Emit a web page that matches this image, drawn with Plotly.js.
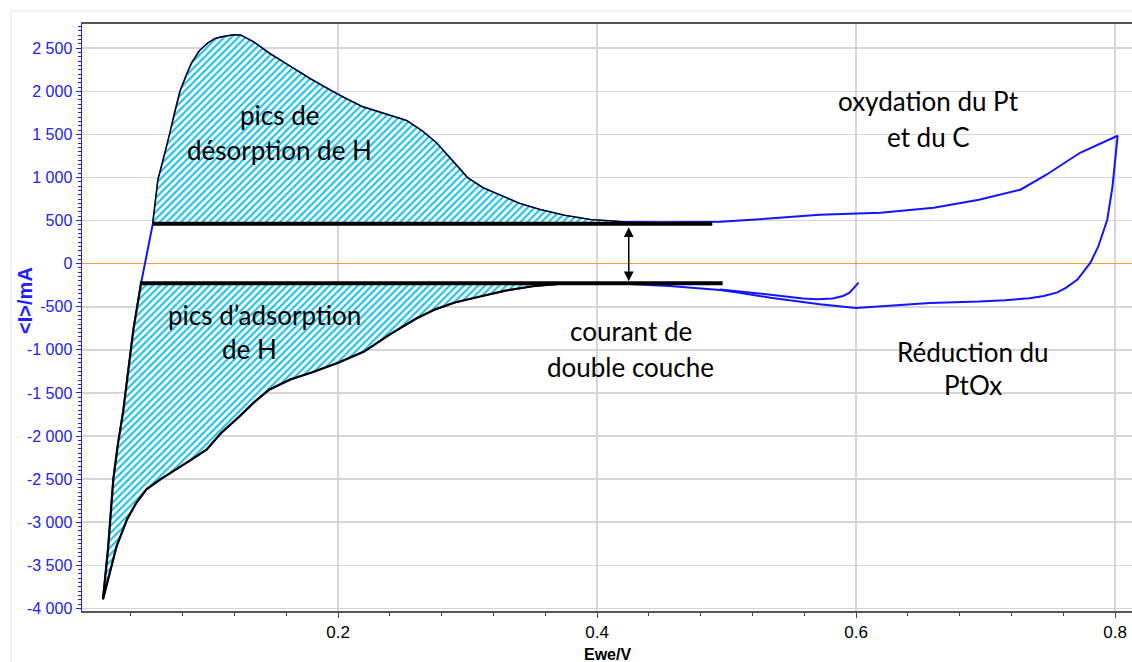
<!DOCTYPE html>
<html>
<head>
<meta charset="utf-8">
<script src="https://cdn.plot.ly/plotly-3.0.1.min.js"></script>
<style>
html,body{margin:0;padding:0;background:#fff;overflow:hidden;}
#chart{width:1132px;height:662px;}
</style>
</head>
<body>
<div id="chart"></div>
<script>
// Anodic sweep (forward, E increasing) — E (V), <I> (mA)
const anodicX = [0.0185,0.0225,0.0265,0.030,0.034,0.038,0.042,0.048,0.051,0.057,0.061,0.066,0.070,0.074,0.078,0.083,0.087,0.093,0.0996,0.105,0.110,0.119,0.125,0.135,0.147,0.163,0.178,0.192,0.205,0.219,0.235,0.253,0.265,0.276,0.288,0.300,0.312,0.325,0.340,0.356,0.375,0.395,0.418,0.45,0.495,0.53,0.572,0.619,0.66,0.695,0.727,0.747,0.773,0.802];
const anodicY = [-3894,-3300,-2503,-2100,-1727,-1250,-765,-220,0,464,973,1260,1495,1760,1997,2190,2330,2470,2561,2610,2630,2654,2650,2570,2440,2290,2150,2030,1924,1820,1745,1660,1540,1402,1200,997,880,800,700,626,560,510,487,480,487,520,568,591,650,742,858,1032,1287,1484];
// Cathodic sweep (backward, E decreasing)
const cathodicX = [0.800,0.798,0.794,0.787,0.781,0.771,0.762,0.755,0.745,0.734,0.715,0.695,0.657,0.625,0.600,0.572,0.534,0.510,0.495,0.456,0.425,0.40,0.37,0.35,0.33,0.309,0.29,0.275,0.26,0.24,0.22,0.20,0.18,0.163,0.147,0.135,0.124,0.110,0.0986,0.087,0.075,0.063,0.052,0.044,0.037,0.029,0.0185];
const cathodicY = [1200,892,510,197,12,-185,-280,-336,-375,-400,-425,-440,-455,-490,-515,-470,-395,-336,-305,-258,-235,-228,-235,-262,-310,-379,-450,-530,-640,-820,-1020,-1150,-1260,-1344,-1460,-1610,-1770,-1960,-2156,-2270,-2388,-2500,-2619,-2780,-2967,-3277,-3894];
// Second cycle reversed at 0.6 V (cathodic part)
const hookX = [0.602,0.598,0.595,0.590,0.582,0.570,0.559,0.534,0.510,0.495];
const hookY = [-220,-280,-336,-375,-405,-412,-405,-360,-320,-300];

// Baselines (double-layer current levels)
const desorptionBase = 464;
const desorptionLineX = [0.057, 0.489];
const desorptionFillEndX = 0.425;
const adsorptionBase = -228;
const adsorptionLineX = [0.047, 0.497];
const adsorptionFillEndX = 0.37;
const arrowX = 0.4245;

// Tick labels
const yTickVals = [-4000,-3500,-3000,-2500,-2000,-1500,-1000,-500,0,500,1000,1500,2000,2500];
const yTickText = ['-4 000','-3 500','-3 000','-2 500','-2 000','-1 500','-1 000','-500','0','500','1 000','1 500','2 000','2 500'];
const xTickVals = [0.2,0.4,0.6,0.8];
const xTickText = ['0.2','0.4','0.6','0.8'];

// Annotation texts
const labels = [
  {t:'pics de', x:0.155, y:1727},
  {t:'désorption de H', x:0.155, y:1321},
  {t:'pics d’adsorption', x:0.143, y:-591},
  {t:'de H', x:0.132, y:-985},
  {t:'courant de', x:0.426, y:-777},
  {t:'double couche', x:0.4255, y:-1194},
  {t:'oxydation du Pt', x:0.656, y:1889},
  {t:'et du C', x:0.656, y:1472},
  {t:'Réduction du', x:0.690, y:-1020},
  {t:'PtOx', x:0.690, y:-1402}
];

// Build hatched regions from the curves
const upX = [], upY = [];
for (let i = 0; i < anodicX.length; i++) {
  if (anodicX[i] >= desorptionLineX[0] && anodicX[i] <= desorptionFillEndX) { upX.push(anodicX[i]); upY.push(anodicY[i]); }
}
upX.push(desorptionFillEndX, desorptionLineX[0]); upY.push(desorptionBase, desorptionBase);

const loX = [], loY = [];
for (let i = 0; i < cathodicX.length; i++) {
  if (cathodicX[i] <= adsorptionFillEndX) { loX.push(cathodicX[i]); loY.push(cathodicY[i]); }
}
for (let i = 1; i < anodicX.length; i++) {
  if (anodicY[i] <= adsorptionBase + 10) { loX.push(anodicX[i]); loY.push(anodicY[i]); }
}

const blue = '#1414ff';
const hatch = {shape:'/', fgcolor:'#22c4e6', bgcolor:'#ffffff', size:5, solidity:0.45};

const traces = [
  {x: anodicX.concat(cathodicX), y: anodicY.concat(cathodicY), mode:'lines', line:{color:blue, width:2}, hoverinfo:'skip'},
  {x: hookX, y: hookY, mode:'lines', line:{color:blue, width:2}, hoverinfo:'skip'},
  {x: upX, y: upY, mode:'lines', fill:'toself', fillcolor:'rgba(0,0,0,0)', fillpattern: hatch, line:{color:'#000', width:1.3}, hoverinfo:'skip'},
  {x: loX, y: loY, mode:'lines', fill:'toself', fillcolor:'rgba(0,0,0,0)', fillpattern: hatch, line:{color:'#000', width:2.2}, hoverinfo:'skip'},
  {x: desorptionLineX, y: [desorptionBase, desorptionBase], mode:'lines', line:{color:'#000', width:4}, hoverinfo:'skip'},
  {x: adsorptionLineX, y: [adsorptionBase, adsorptionBase], mode:'lines', line:{color:'#000', width:4}, hoverinfo:'skip'}
];

const annotations = labels.map(l => ({
  x:l.x, y:l.y, xref:'x', yref:'y', text:l.t, showarrow:false,
  font:{family:'Lato, "Open Sans", sans-serif', size:26, color:'#000'},
  xanchor:'center', yanchor:'middle'
}));
annotations.push({
  x: arrowX, y: adsorptionBase, ax: arrowX, ay: desorptionBase, xref:'x', yref:'y', axref:'x', ayref:'y',
  text:'', showarrow:true, arrowhead:2, startarrowhead:2, arrowside:'end+start', arrowsize:1.3, startarrowsize:1.3, arrowwidth:1.5, arrowcolor:'#000',
  standoff:2, startstandoff:2
});
annotations.push({
  x:0.5, xref:'paper', y:0, yref:'paper', yshift:-43, text:'<b>Ewe/V</b>', showarrow:false,
  font:{family:'"Liberation Sans Narrow", "Liberation Sans", Arial, sans-serif', size:16, color:'#000'}, yanchor:'middle'
});
annotations.push({
  x:-0.0543, xref:'paper', y:0.53, yref:'paper', text:'<b>&lt;I&gt;/mA</b>', textangle:-90, showarrow:false,
  font:{family:'"Liberation Sans", Arial, sans-serif', size:20, color:'#2020ff'}, xanchor:'center', yanchor:'middle'
});

const layout = {
  width:1132, height:662,
  margin:{l:82, r:0, t:24, b:51},
  paper_bgcolor:'#fff', plot_bgcolor:'#fff',
  showlegend:false,
  xaxis:{
    range:[0.0023, 0.8131], tickmode:'array', tickvals:xTickVals, ticktext:xTickText,
    showgrid:true, gridcolor:'#d6d6d6', gridwidth:1.5, zeroline:false,
    showline:true, linecolor:'#555', linewidth:2, mirror:true,
    ticks:'outside', ticklen:5, tickcolor:'#444', tickwidth:1,
    minor:{tickmode:'linear', tick0:0, dtick:0.04, ticks:'outside', ticklen:3, tickcolor:'#444', showgrid:false},
    tickfont:{family:'"Liberation Sans Narrow", "Liberation Sans", Arial, sans-serif', size:17, color:'#000'}
  },
  yaxis:{
    range:[-4030, 2781], tickmode:'array', tickvals:yTickVals, ticktext:yTickText,
    showgrid:true, gridcolor:'#d6d6d6', gridwidth:1.5,
    zeroline:true, zerolinecolor:'#ff9a33', zerolinewidth:1.5,
    showline:true, linecolor:'#2020ff', linewidth:1.5,
    ticks:'outside', ticklen:5, tickcolor:'#2020ff', tickwidth:1,
    minor:{tickmode:'linear', tick0:0, dtick:50, ticks:'outside', ticklen:3, tickcolor:'#2020ff', showgrid:false},
    tickfont:{family:'"Liberation Sans", Arial, sans-serif', size:16, color:'#2020ff'}
  },
  shapes:[
    {type:'rect', xref:'paper', yref:'paper', x0:-0.0676, x1:1.05, y0:-0.2, y1:1.0221, line:{color:'#e2e2e2', width:1}, fillcolor:'rgba(0,0,0,0)', layer:'below'}
  ],
  annotations: annotations
};

Plotly.newPlot('chart', traces, layout, {displayModeBar:false, staticPlot:true});
</script>
</body>
</html>
